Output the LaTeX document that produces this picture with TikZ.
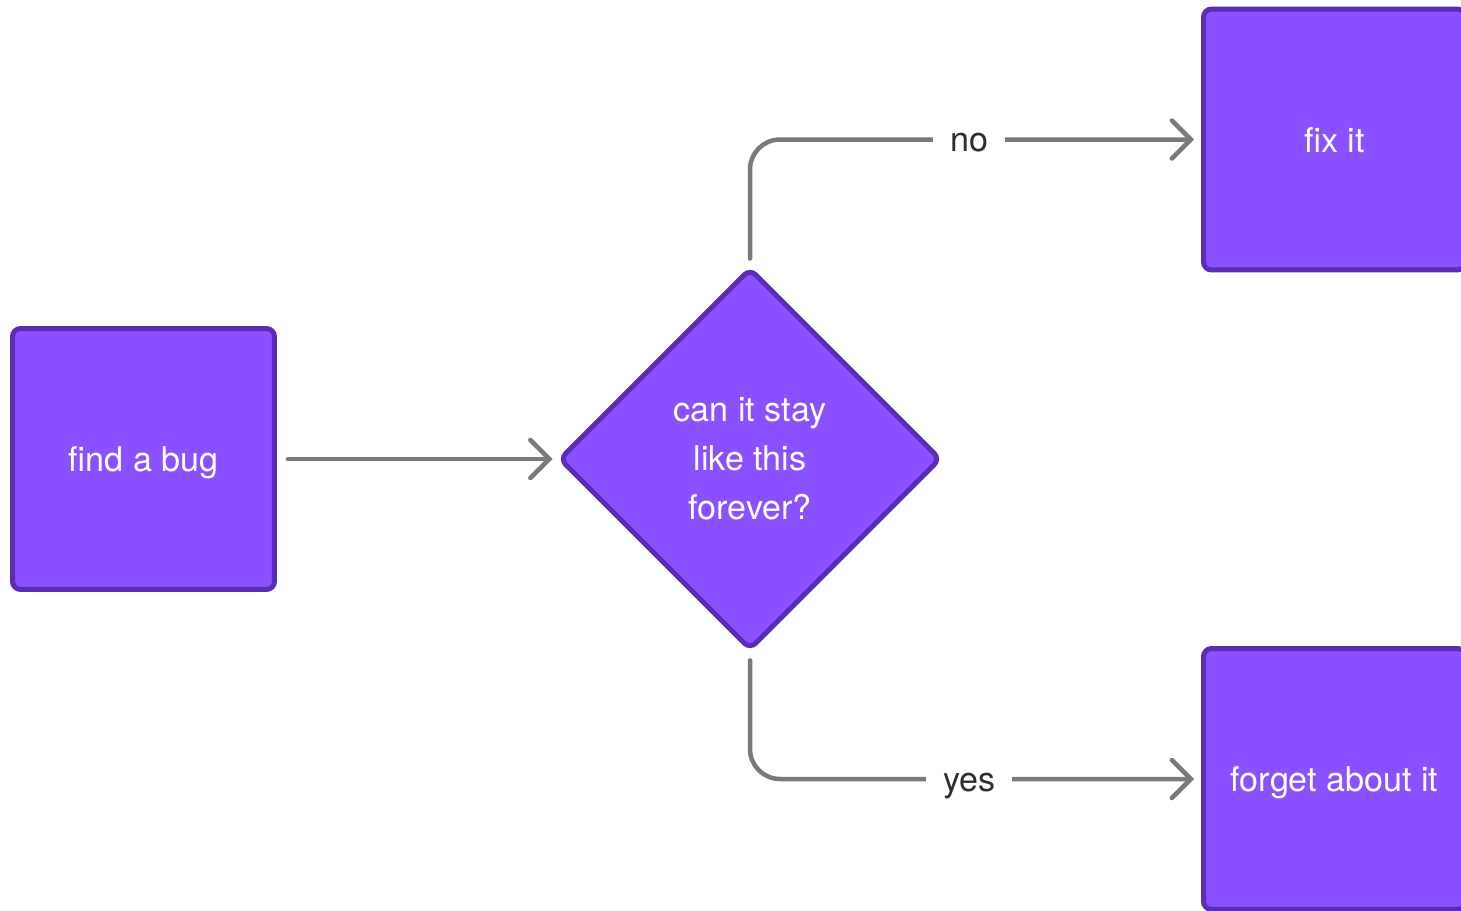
\documentclass[tikz,border=0pt]{standalone}
\usepackage{fontspec}
\setmainfont{TeX Gyre Heros}
\usepackage{xcolor}
\usepackage{tikz}
\usetikzlibrary{shapes.geometric,arrows.meta,positioning}

\definecolor{boxfill}{HTML}{8B50FF}
\definecolor{boxline}{HTML}{5A2DB4}
\definecolor{linkgray}{HTML}{7A7A7A}
\definecolor{labeltext}{HTML}{2E2E2E}

\tikzset{
  stepbox/.style={draw=boxline, fill=boxfill, line width=0.1cm, rounded corners=0.16cm,
    minimum width=5.24cm, minimum height=5.22cm, inner sep=0pt, text=white,
    text height=0.5cm, text depth=0pt, font=\fontsize{19.4}{28}\selectfont},
  decision/.style={diamond, aspect=1, draw=boxline, fill=boxfill, line width=0.1cm,
    rounded corners=0.16cm, minimum width=7.64cm, minimum height=7.64cm, inner sep=0pt,
    text=white, align=center, font=\fontsize{19.4}{27.9}\selectfont},
  link/.style={draw=linkgray, line width=0.09cm, line cap=round, rounded corners=0.6cm,
    -{Straight Barb[length=0.38cm, width=0.76cm, line cap=round]}},
  linklabel/.style={sharp corners, fill=white, text=labeltext, inner xsep=0.34cm, inner ysep=0pt,
    text height=0.48cm, text depth=0pt, font=\fontsize{19.4}{28}\selectfont}
}

\begin{document}
\begin{tikzpicture}[x=0.02cm, y=-0.02cm]
    % page
    \useasboundingbox[fill=white] (0,0) rectangle (1461,910);
    \clip (0,0) rectangle (1461,910);

    % steps
    \node[stepbox] (bug) at (143.5,459) {find a bug};
    \node[decision] (ask) at (750,459) {can it stay\\like this\\forever?};
    \node[stepbox] (fix) at (1334.5,139.5) {fix it};
    \node[stepbox] (forget) at (1334.5,779) {forget about it};

    % connectors
    \draw[link, shorten <=0.22cm, shorten >=0.08cm] (bug.east) -- (ask.west);
    \draw[link, shorten <=0.14cm, shorten >=0.14cm] (ask.north) |- node[pos=0.743, linklabel] {no} (fix.west);
    \draw[link, shorten <=0.16cm, shorten >=0.14cm] (ask.south) |- node[pos=0.743, linklabel] {yes} (forget.west);
\end{tikzpicture}
\end{document}
